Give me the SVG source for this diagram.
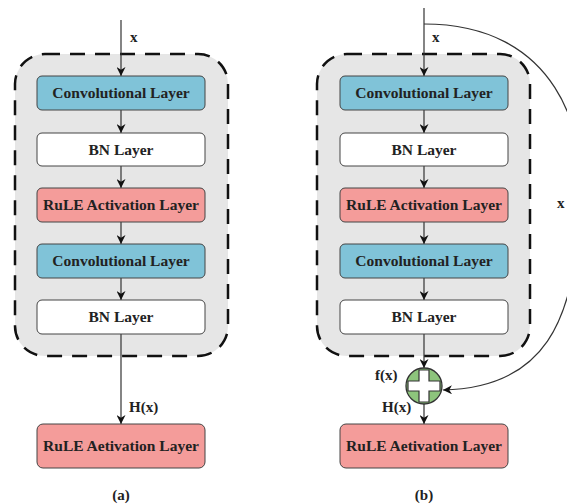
<svg xmlns="http://www.w3.org/2000/svg" width="567" height="504" viewBox="0 0 567 504">
<defs>
<marker id="ah" viewBox="0 0 10 10" refX="10" refY="5" markerWidth="9" markerHeight="9" markerUnits="userSpaceOnUse" orient="auto">
<path d="M0,0 L10,5 L0,10 L3,5 Z" fill="#111"/>
</marker>
<style>
.grp{fill:#e6e6e6;stroke:#111;stroke-width:2.5;stroke-dasharray:15 10}
.box{stroke:#444;stroke-width:1}
.blue{fill:#80c3d8}
.white{fill:#ffffff}
.red{fill:#f49c9a}
.t{font-family:"Liberation Serif","Times New Roman",serif;font-weight:bold;font-size:15.5px;fill:#222;text-anchor:middle}
.lbl{font-family:"Liberation Serif","Times New Roman",serif;font-weight:bold;font-size:15px;fill:#222}
.ln{stroke:#333;stroke-width:1.2;fill:none}
</style>
</defs>
<rect width="567" height="504" fill="#ffffff"/>

<g id="group-a"><rect class="grp" x="15" y="54" width="213" height="302" rx="30"/></g>
<g id="group-b"><rect class="grp" x="317" y="54" width="213" height="302" rx="30"/></g>

<g id="connectors">
<line class="ln" x1="121" y1="20" x2="121" y2="76" marker-end="url(#ah)"/>
<line class="ln" x1="121" y1="110" x2="121" y2="133" marker-end="url(#ah)"/>
<line class="ln" x1="121" y1="166" x2="121" y2="188" marker-end="url(#ah)"/>
<line class="ln" x1="121" y1="222" x2="121" y2="244" marker-end="url(#ah)"/>
<line class="ln" x1="121" y1="278" x2="121" y2="300" marker-end="url(#ah)"/>
<line class="ln" x1="121" y1="334" x2="121" y2="424" marker-end="url(#ah)"/>

<line class="ln" x1="424" y1="8" x2="424" y2="76" marker-end="url(#ah)"/>
<line class="ln" x1="424" y1="110" x2="424" y2="133" marker-end="url(#ah)"/>
<line class="ln" x1="424" y1="166" x2="424" y2="188" marker-end="url(#ah)"/>
<line class="ln" x1="424" y1="222" x2="424" y2="244" marker-end="url(#ah)"/>
<line class="ln" x1="424" y1="278" x2="424" y2="300" marker-end="url(#ah)"/>
<line class="ln" x1="424" y1="334" x2="424" y2="368" marker-end="url(#ah)"/>
<line class="ln" x1="424" y1="404" x2="424" y2="424" marker-end="url(#ah)"/>
<path class="ln" d="M424,24 C555,24 590,130 580,215 C574,320 545,388 443,390" marker-end="url(#ah)"/>
</g>

<g id="a-conv1"><rect class="box blue" x="37" y="76" width="168" height="34" rx="5"/><text class="t" x="121" y="98">Convolutional Layer</text></g>
<g id="a-bn1"><rect class="box white" x="37" y="133" width="168" height="33" rx="5"/><text class="t" x="121" y="155">BN Layer</text></g>
<g id="a-rule1"><rect class="box red" x="37" y="188" width="168" height="34" rx="5"/><text class="t" x="121" y="210">RuLE Activation Layer</text></g>
<g id="a-conv2"><rect class="box blue" x="37" y="244" width="168" height="34" rx="5"/><text class="t" x="121" y="266">Convolutional Layer</text></g>
<g id="a-bn2"><rect class="box white" x="37" y="300" width="168" height="34" rx="5"/><text class="t" x="121" y="322">BN Layer</text></g>
<g id="a-rule-out"><rect class="box red" x="37" y="424" width="168" height="44" rx="6"/><text class="t" x="121" y="451">RuLE Aetivation Layer</text></g>

<g id="b-conv1"><rect class="box blue" x="340" y="76" width="168" height="34" rx="5"/><text class="t" x="424" y="98">Convolutional Layer</text></g>
<g id="b-bn1"><rect class="box white" x="340" y="133" width="168" height="33" rx="5"/><text class="t" x="424" y="155">BN Layer</text></g>
<g id="b-rule1"><rect class="box red" x="340" y="188" width="168" height="34" rx="5"/><text class="t" x="424" y="210">RuLE Activation Layer</text></g>
<g id="b-conv2"><rect class="box blue" x="340" y="244" width="168" height="34" rx="5"/><text class="t" x="424" y="266">Convolutional Layer</text></g>
<g id="b-bn2"><rect class="box white" x="340" y="300" width="168" height="34" rx="5"/><text class="t" x="424" y="322">BN Layer</text></g>
<g id="b-rule-out"><rect class="box red" x="340" y="424" width="168" height="44" rx="6"/><text class="t" x="424" y="451">RuLE Aetivation Layer</text></g>

<g id="b-add">
<circle cx="424" cy="386" r="18" fill="#8dc47c" stroke="#333" stroke-width="1.3"/>
<path d="M419,370 H429 V381 H440 V391 H429 V402 H419 V391 H408 V381 H419 Z" fill="#ffffff" stroke="#333" stroke-width="1.2"/>
</g>

<g id="labels">
<text class="lbl" x="130" y="42">x</text>
<text class="lbl" x="432" y="42">x</text>
<text class="lbl" x="129" y="412">H(x)</text>
<text class="lbl" x="375" y="380">f(x)</text>
<text class="lbl" x="382" y="412">H(x)</text>
<text class="lbl" x="557" y="208">x</text>
<text class="lbl" x="121" y="500" text-anchor="middle">(a)</text>
<text class="lbl" x="424" y="500" text-anchor="middle">(b)</text>
</g>
</svg>
